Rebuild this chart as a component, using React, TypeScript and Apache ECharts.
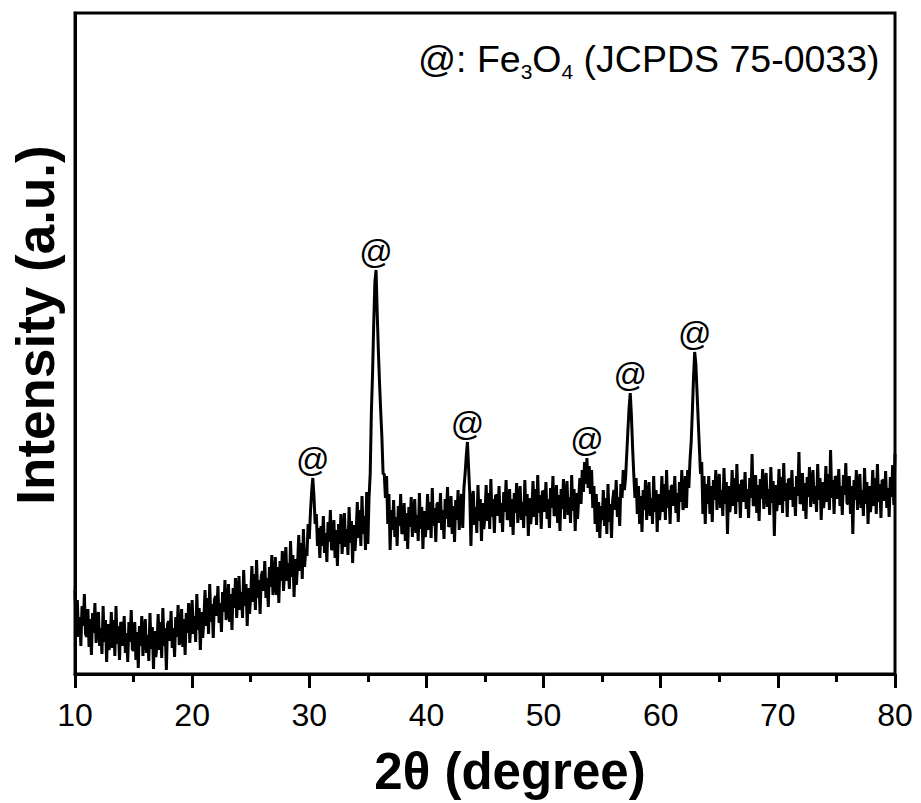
import React, { useEffect, useRef } from "react";
import * as echarts from "echarts";

const intensity: number[] = [
  84, 44, 74, 37, 57, 28, 68, 48, 80, 40, // 10
  37, 65, 27, 55, 19, 61, 41, 71, 31, 53, // 11
  62, 28, 46, 20, 68, 32, 54, 12, 50, 24, // 12
  32, 62, 26, 54, 18, 68, 30, 48, 14, 52, // 13
  48, 28, 58, 21, 41, 12, 52, 32, 64, 24, // 14
  24, 52, 14, 42, 6, 48, 28, 58, 18, 40, // 15
  55, 21, 39, 13, 61, 25, 47, 5, 43, 17, // 16
  30, 60, 24, 52, 16, 66, 28, 46, 4, 50, // 17
  53, 33, 63, 26, 46, 17, 57, 37, 69, 29, // 18
  37, 65, 27, 55, 19, 61, 41, 71, 31, 53, // 19
  74, 40, 58, 32, 80, 44, 66, 24, 62, 36, // 20
  54, 84, 48, 76, 40, 90, 52, 70, 36, 74, // 21
  78, 58, 88, 51, 71, 42, 82, 62, 94, 54, // 22
  62, 90, 52, 80, 44, 86, 66, 96, 56, 78, // 23
  98, 64, 82, 56, 104, 68, 90, 48, 86, 60, // 24
  78, 108, 72, 100, 64, 114, 76, 94, 60, 98, // 25
  103, 83, 113, 76, 96, 67, 107, 87, 119, 79, // 26
  89, 117, 79, 107, 71, 113, 93, 123, 83, 105, // 27
  127, 93, 111, 85, 133, 97, 119, 77, 115, 89, // 28
  109, 139, 103, 131, 95, 145, 107, 125, 118, 150, // 29
  135, 162, 182, 196, 178, 150, 160, 128, 146, 116, // 30
  148, 128, 158, 121, 141, 112, 152, 132, 164, 124, // 31
  126, 154, 116, 144, 108, 150, 130, 160, 120, 142, // 32
  161, 127, 145, 119, 167, 131, 153, 111, 149, 123, // 33
  142, 172, 136, 164, 128, 178, 140, 158, 124, 182, // 34
  130, 176, 200, 262, 300, 350, 392, 404, 360, 322, // 35
  290, 262, 236, 200, 200, 176, 198, 150, 180, 124, // 36
  164, 144, 174, 137, 157, 128, 168, 148, 180, 140, // 37
  143, 171, 133, 161, 125, 167, 147, 177, 137, 159, // 38
  175, 141, 159, 133, 181, 145, 167, 125, 163, 137, // 39
  150, 180, 144, 172, 136, 186, 148, 166, 132, 170, // 40
  171, 151, 181, 144, 164, 135, 175, 155, 187, 147, // 41
  150, 178, 140, 168, 132, 174, 154, 184, 144, 166, // 42
  180, 146, 186, 200, 218, 232, 206, 180, 128, 176, // 43
  183, 149, 167, 141, 189, 153, 175, 133, 171, 145, // 44
  159, 189, 153, 181, 145, 195, 157, 175, 141, 179, // 45
  178, 158, 188, 151, 171, 142, 182, 162, 194, 154, // 46
  157, 185, 147, 175, 139, 181, 161, 191, 151, 173, // 47
  188, 154, 172, 146, 194, 158, 180, 138, 176, 150, // 48
  163, 193, 157, 185, 149, 199, 161, 179, 145, 183, // 49
  182, 162, 192, 155, 175, 146, 186, 166, 198, 158, // 50
  161, 189, 151, 179, 143, 185, 165, 195, 155, 177, // 51
  193, 159, 177, 151, 199, 163, 185, 143, 181, 155, // 52
  176, 196, 170, 204, 182, 212, 190, 216, 186, 208, // 53
  180, 204, 166, 188, 150, 180, 142, 172, 136, 168, // 54
  154, 184, 148, 176, 140, 190, 152, 170, 136, 174, // 55
  184, 164, 194, 157, 177, 148, 190, 176, 204, 184, // 56
  196, 220, 244, 266, 281, 258, 226, 200, 176, 196, // 57
  160, 188, 150, 178, 142, 184, 164, 194, 154, 176, // 58
  192, 158, 176, 150, 198, 162, 184, 142, 180, 154, // 59
  168, 198, 162, 190, 154, 204, 166, 184, 150, 188, // 60
  188, 168, 198, 161, 181, 152, 192, 172, 204, 164, // 61
  170, 198, 166, 204, 186, 214, 232, 262, 296, 322, // 62
  310, 282, 254, 226, 200, 212, 160, 198, 150, 190, // 63
  170, 198, 160, 188, 152, 194, 174, 204, 164, 186, // 64
  200, 166, 184, 158, 206, 170, 192, 140, 188, 162, // 65
  174, 204, 168, 196, 160, 210, 172, 190, 156, 194, // 66
  192, 172, 202, 165, 185, 156, 196, 176, 220, 168, // 67
  171, 199, 161, 189, 153, 195, 175, 205, 165, 187, // 68
  201, 167, 185, 159, 207, 171, 193, 138, 189, 163, // 69
  175, 205, 169, 197, 161, 211, 173, 191, 157, 195, // 70
  194, 174, 204, 167, 187, 158, 198, 178, 222, 170, // 71
  173, 201, 163, 191, 155, 197, 177, 207, 167, 189, // 72
  204, 170, 188, 162, 210, 174, 196, 154, 192, 166, // 73
  178, 208, 172, 200, 164, 224, 176, 194, 160, 198, // 74
  195, 175, 205, 168, 188, 159, 199, 179, 211, 171, // 75
  170, 198, 160, 188, 140, 194, 174, 204, 164, 186, // 76
  200, 166, 184, 158, 206, 170, 192, 150, 188, 162, // 77
  174, 204, 168, 196, 160, 210, 172, 190, 156, 194, // 78
  193, 173, 203, 166, 186, 157, 197, 177, 209, 169, // 79
  220, // 80
];
const startAngle = 10;
const angleStep = 0.1;

// Fe3O4 reflections marked with "@"
const peakAngles: number[] = [30.3, 35.7, 43.5, 53.7, 57.4, 62.9];
const peakTops: number[] = [196, 404, 232, 216, 281, 322];

const xTicks = { min: 10, max: 80, interval: 10 };

const FONT = '"Liberation Sans", Arial, Helvetica, sans-serif';

function measure(text: string, size: number, weight = "normal"): number {
  const c = document.createElement("canvas").getContext("2d");
  if (!c) return text.length * size * 0.55;
  c.font = `${weight} ${size}px "Liberation Sans", Arial, sans-serif`;
  return c.measureText(text).width;
}

export default function App() {
  const ref = useRef<HTMLDivElement>(null);
  useEffect(() => {
    if (!ref.current) return;
    const chart = echarts.init(ref.current, undefined, { renderer: "svg" });
    const lineData = intensity.map((v, i) => [+(startAngle + i * angleStep).toFixed(1), v]);
    const peakData = peakAngles.map((a, i) => [a, peakTops[i]]);

    // legend text with subscripts
    const mainSize = 37.5;
    const subSize = 21;
    const parts = [
      { t: "@: Fe", sub: false },
      { t: "3", sub: true },
      { t: "O", sub: false },
      { t: "4", sub: true },
      { t: " (JCPDS 75-0033)", sub: false },
    ];
    let cx = 418;
    const legendEls: any[] = [];
    parts.forEach((p) => {
      const size = p.sub ? subSize : mainSize;
      legendEls.push({
        type: "text",
        x: cx,
        y: p.sub ? 71 : 59,
        style: {
          text: p.t,
          fontSize: size,
          fontFamily: FONT,
          fill: "#000",
          align: "left",
          verticalAlign: "middle",
        },
      });
      cx += measure(p.t, size);
    });

    chart.setOption({
      animation: false,
      backgroundColor: "#fff",
      grid: {
        left: 75,
        top: 13,
        width: 820,
        height: 661,
        show: true,
        borderColor: "#000",
        borderWidth: 3,
        backgroundColor: "transparent",
      },
      xAxis: {
        type: "value",
        min: xTicks.min,
        max: xTicks.max,
        interval: xTicks.interval,
        axisLine: { show: true, lineStyle: { color: "#000", width: 3 } },
        axisTick: { show: true, inside: false, length: 14, lineStyle: { color: "#000", width: 3 } },
        minorTick: { show: true, splitNumber: 2, length: 8, lineStyle: { color: "#000", width: 3 } },
        axisLabel: { fontSize: 32, color: "#000", fontFamily: FONT, margin: 25 },
        splitLine: { show: false },
      },
      yAxis: {
        type: "value",
        min: 0,
        max: 661,
        axisLine: { show: true, lineStyle: { color: "#000", width: 3 } },
        axisTick: { show: false },
        axisLabel: { show: false },
        splitLine: { show: false },
      },
      series: [
        {
          type: "line",
          data: lineData,
          symbol: "none",
          lineStyle: { color: "#000", width: 3 },
          silent: true,
        },
        {
          type: "scatter",
          data: peakData,
          symbolSize: 1,
          itemStyle: { color: "rgba(0,0,0,0)" },
          silent: true,
          label: {
            show: true,
            position: "top",
            distance: 2,
            formatter: "@",
            fontSize: 33,
            color: "#000",
            opacity: 1,
            textBorderWidth: 0,
            fontFamily: FONT,
          },
        },
      ],
      graphic: [
        ...legendEls,
        {
          type: "text",
          x: 510,
          y: 771,
          style: {
            text: "2θ (degree)",
            fontSize: 51,
            fontWeight: "bold",
            fontFamily: FONT,
            fill: "#000",
            align: "center",
            verticalAlign: "middle",
          },
        },
        {
          type: "text",
          x: 35,
          y: 325,
          rotation: Math.PI / 2,
          style: {
            text: "Intensity (a.u.)",
            fontSize: 53,
            fontWeight: "bold",
            fontFamily: FONT,
            fill: "#000",
            align: "center",
            verticalAlign: "middle",
          },
        },
      ],
    });
    return () => chart.dispose();
  }, []);
  return (
    <div
      ref={ref}
      style={{ position: "fixed", left: 0, top: 0, width: 921, height: 803, background: "#fff" }}
    />
  );
}
